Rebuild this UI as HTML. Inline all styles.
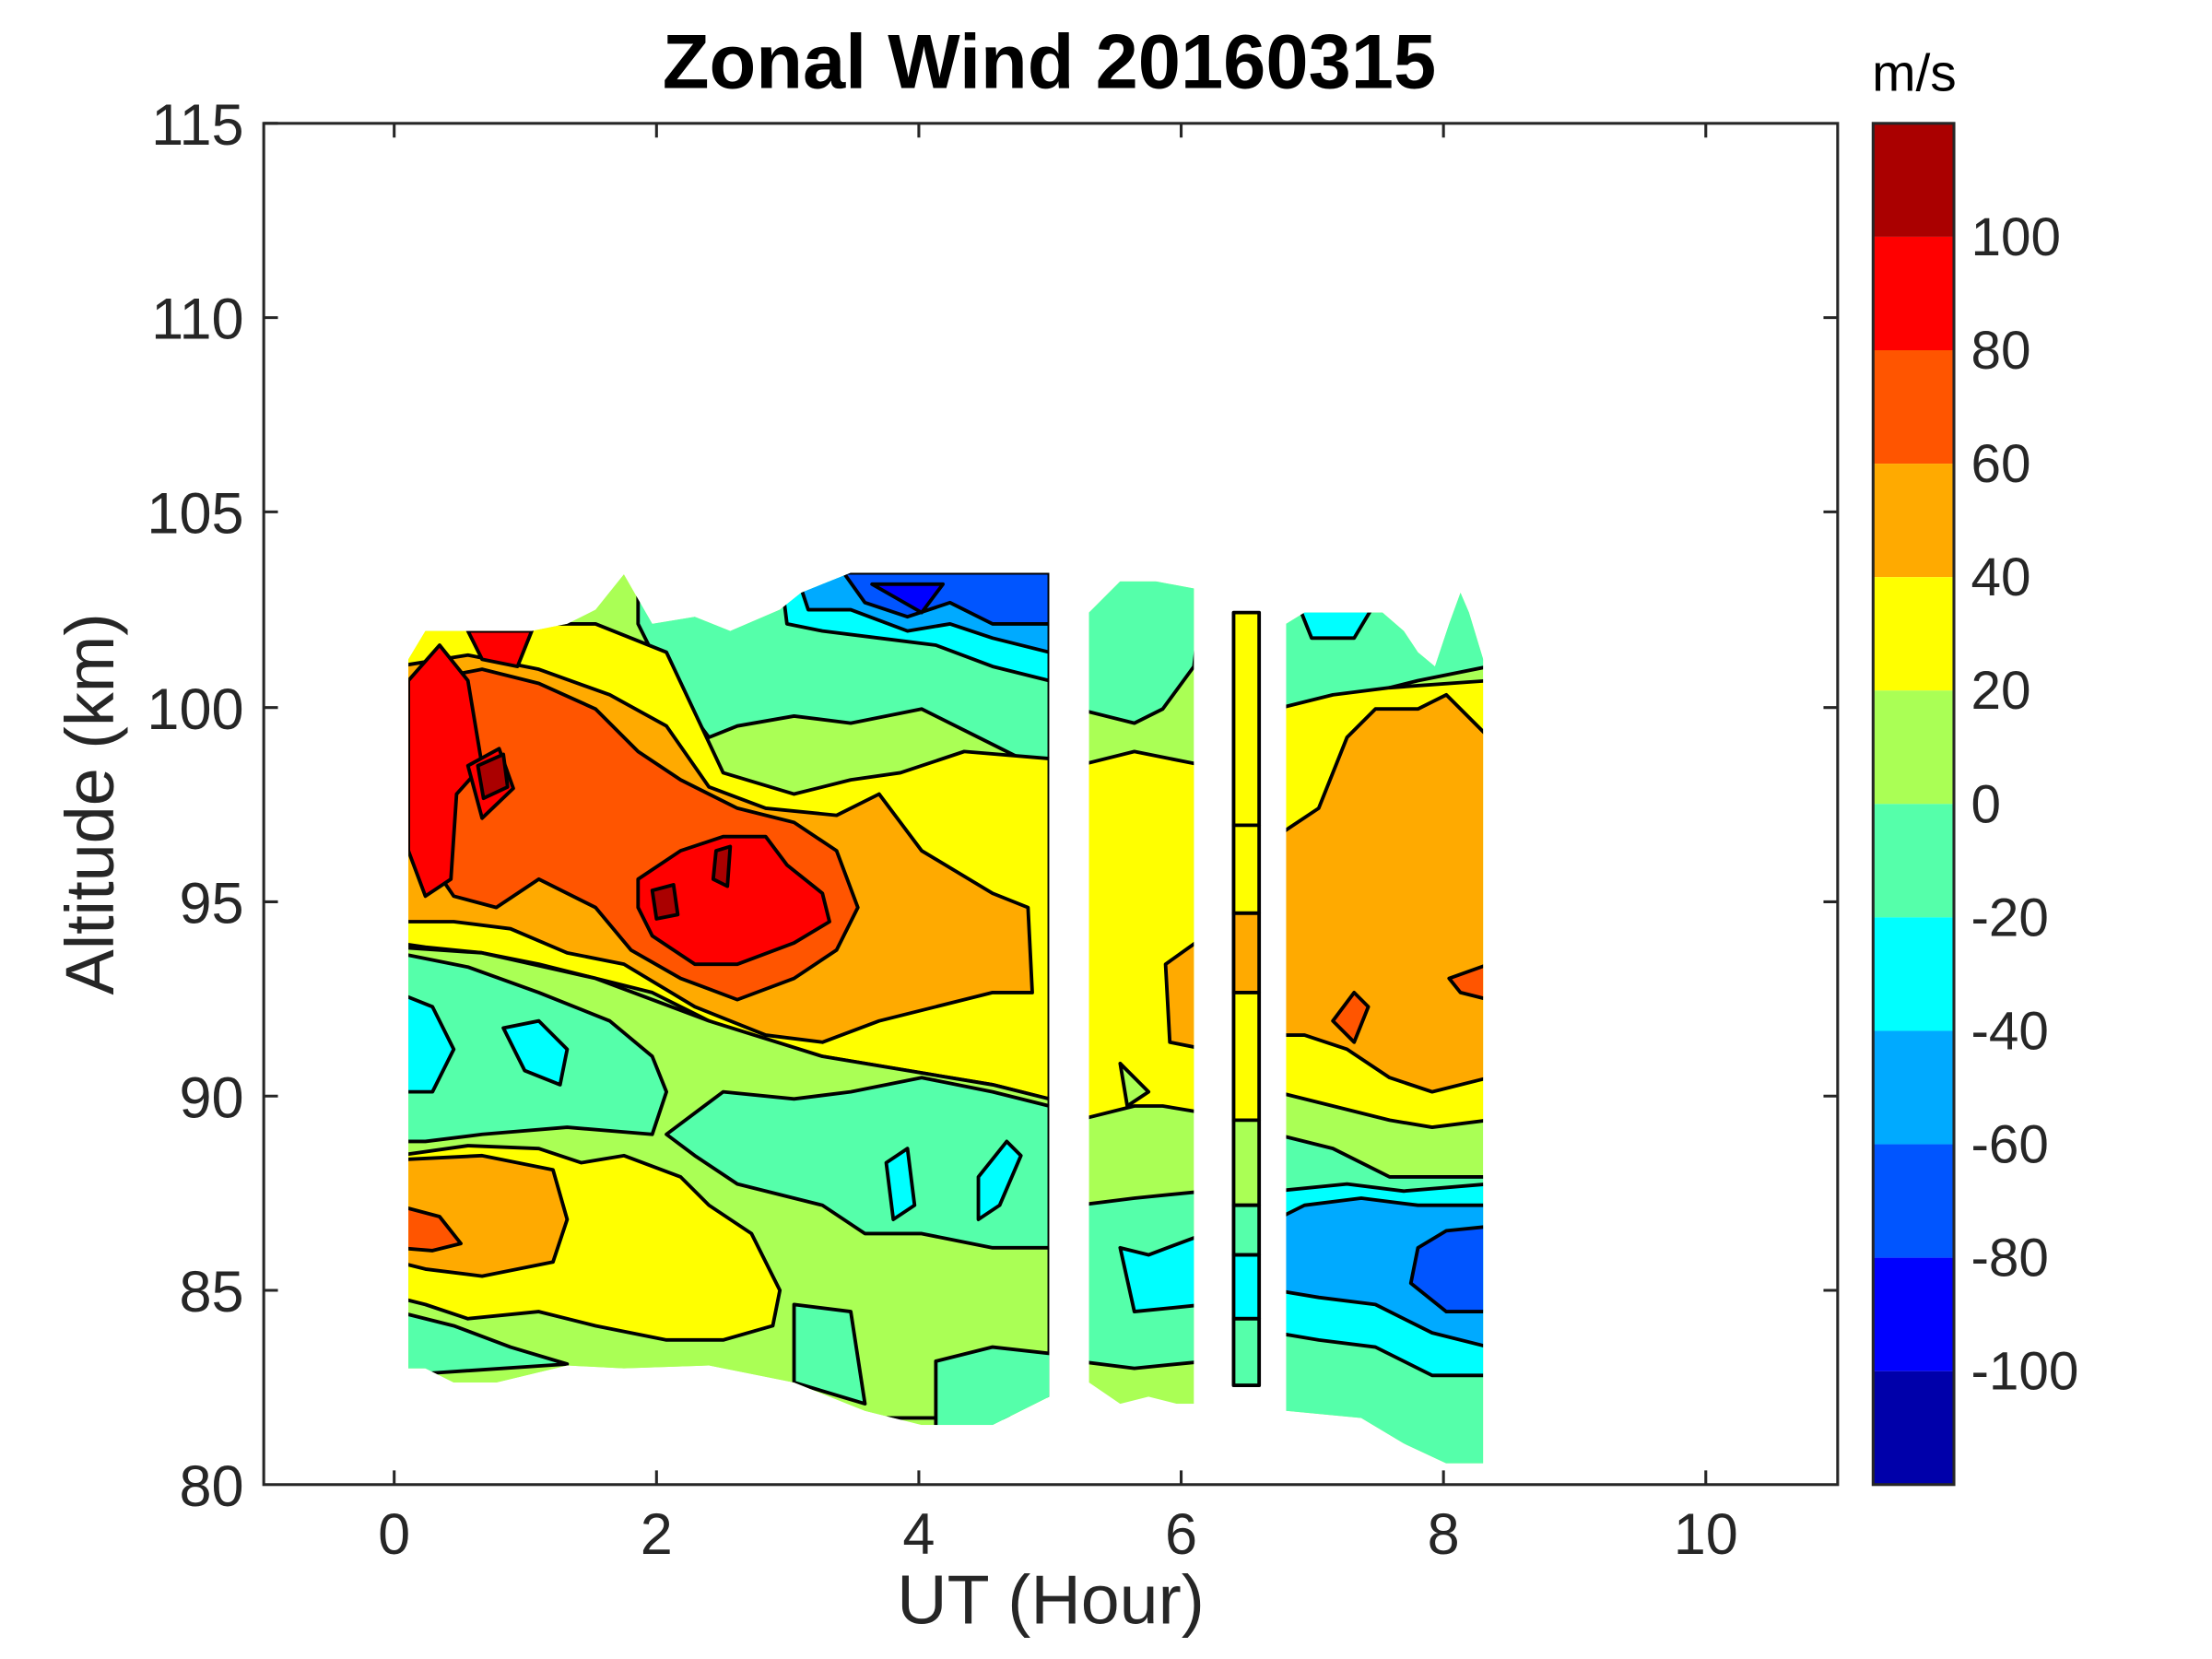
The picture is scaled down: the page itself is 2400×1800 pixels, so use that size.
<!DOCTYPE html>
<html><head><meta charset="utf-8"><style>html,body{margin:0;padding:0;background:#fff}svg{display:block}</style></head>
<body>
<svg width="2400" height="1800" viewBox="0 0 1560 1170" xmlns="http://www.w3.org/2000/svg" font-family="Liberation Sans, Arial, sans-serif">
<defs>
<clipPath id="b1"><polygon points="288,465 300,445 330,445 375,445 400,440 420,430 440,405 460,440 490,435 515,445 550,430 565,418 600,404 740,404 740,985 700,1005 650,1005 610,995 560,975 500,963 440,965 400,963 350,975 320,975 300,965 288,965"/></clipPath>
<clipPath id="b2"><polygon points="768,432 790,410 815,410 842,415 842,990 830,990 810,985 790,990 768,975"/></clipPath>
<clipPath id="b4"><polygon points="907,440 920,432 975,432 990,445 1000,460 1012,470 1022,440 1030,418 1036,432 1046,465 1046,1032 1020,1032 990,1018 960,1000 907,995"/></clipPath>
</defs>
<rect width="1560" height="1170" fill="#fff"/>
<g stroke="#000" stroke-width="2.5" stroke-linejoin="round">
<g clip-path="url(#b1)">
<rect x="280" y="400" width="470" height="620" fill="#AAFF55" stroke="none"/>
<polygon fill="#55FFAA" points="450,400 740,400 740,545 690,520 650,500 600,510 560,505 520,512 500,520 470,480 450,440"/>
<polygon fill="#00FFFF" points="550,400 740,400 740,480 700,470 660,455 620,450 580,445 555,440"/>
<polygon fill="#00AAFF" points="560,400 740,400 740,460 700,450 670,440 640,445 600,430 570,430"/>
<polygon fill="#0055FF" points="595,404 740,404 740,440 700,440 670,425 640,435 610,425"/>
<polygon fill="#0000FF" points="615,412 665,412 650,432"/>
<polygon fill="#FFFF00" points="280,440 420,440 470,460 510,545 560,560 600,550 635,545 680,530 740,535 740,775 700,765 640,755 580,745 540,735 500,720 460,700 420,690 380,680 340,672 300,668 280,665"/>
<polygon fill="#FFAA00" points="280,470 330,462 380,472 430,490 470,512 500,555 540,570 590,575 620,560 650,600 700,630 725,640 728,700 700,700 660,710 620,720 580,735 540,730 490,710 440,680 400,672 360,655 320,650 280,650"/>
<polygon fill="#FF5500" points="298,480 340,472 380,482 420,500 450,530 480,550 520,570 560,580 590,600 605,640 590,670 560,690 520,705 480,690 445,670 420,640 380,620 350,640 320,632 298,600"/>
<polygon fill="#FF0000" points="288,480 310,455 330,480 340,540 322,560 318,620 300,632 288,600"/>
<polygon fill="#FF0000" points="330,445 375,445 365,470 340,465"/>
<polygon fill="#FF0000" points="330,540 352,528 362,556 340,577"/>
<polygon fill="#FF0000" points="450,620 480,600 510,590 540,590 555,610 580,630 585,650 560,665 520,680 490,680 460,660 450,640"/>
<polygon fill="#AA0000" points="337,540 355,532 358,555 341,563"/>
<polygon fill="#AA0000" points="460,628 475,624 478,645 463,648"/>
<polygon fill="#AA0000" points="505,600 515,597 513,625 503,620"/>
<polygon fill="#AAFF55" points="280,668 340,672 420,690 500,720 580,745 700,765 740,775 740,1000 280,1000"/>
<polygon fill="#55FFAA" points="280,672 330,682 380,700 430,720 460,745 470,770 460,800 400,795 340,800 300,805 280,805"/>
<polygon fill="#00FFFF" points="280,700 305,710 320,740 305,770 280,770"/>
<polygon fill="#00FFFF" points="355,725 380,720 400,740 395,765 370,755"/>
<polygon fill="#FFFF00" points="280,815 330,808 380,810 410,820 440,815 480,830 500,850 530,870 550,910 545,935 510,945 470,945 420,935 380,925 330,930 300,920 280,915"/>
<polygon fill="#FFAA00" points="280,818 340,815 390,825 400,860 390,890 340,900 300,895 280,890"/>
<polygon fill="#FF5500" points="280,850 310,858 325,877 305,882 280,880"/>
<polygon fill="#55FFAA" points="470,800 510,770 560,775 600,770 650,760 700,770 740,780 740,880 700,880 650,870 610,870 580,850 520,835 490,815"/>
<polygon fill="#00FFFF" points="625,820 640,810 645,850 630,860"/>
<polygon fill="#00FFFF" points="690,830 710,805 720,815 705,850 690,860"/>
<polygon fill="#55FFAA" points="280,925 320,935 360,950 400,962 280,970"/>
<polygon fill="#55FFAA" points="560,920 600,925 610,990 560,975"/>
<polygon fill="#55FFAA" points="660,960 700,950 745,955 745,1010 660,1010"/>
</g>
<g clip-path="url(#b2)">
<rect x="760" y="400" width="90" height="600" fill="#AAFF55" stroke="none"/>
<polygon fill="#55FFAA" points="760,400 850,400 842,470 820,500 800,510 760,500"/>
<polygon fill="#FFFF00" points="760,540 800,530 850,540 850,785 820,780 800,780 760,790"/>
<polygon fill="#FFAA00" points="822,680 850,660 850,740 825,735"/>
<polygon fill="#AAFF55" points="790,750 810,770 795,780"/>
<polygon fill="#55FFAA" points="760,850 800,845 850,840 850,960 800,965 760,960"/>
<polygon fill="#00FFFF" points="790,880 810,885 850,870 850,920 800,925"/>
</g>
<g>
<rect x="870" y="432" width="18" height="150" fill="#FFFF00"/>
<rect x="870" y="582" width="18" height="62" fill="#FFFF00"/>
<rect x="870" y="644" width="18" height="56" fill="#FFAA00"/>
<rect x="870" y="700" width="18" height="90" fill="#FFFF00"/>
<rect x="870" y="790" width="18" height="60" fill="#AAFF55"/>
<rect x="870" y="850" width="18" height="35" fill="#55FFAA"/>
<rect x="870" y="885" width="18" height="45" fill="#00FFFF"/>
<rect x="870" y="930" width="18" height="47" fill="#55FFAA"/>
</g>
<g clip-path="url(#b4)">
<rect x="900" y="410" width="150" height="630" fill="#AAFF55" stroke="none"/>
<polygon fill="#55FFAA" points="900,410 1050,410 1050,470 1000,480 960,490 930,500 900,500"/>
<polygon fill="#00FFFF" points="915,425 970,425 955,450 925,450"/>
<polygon fill="#FFFF00" points="900,500 940,490 980,485 1050,480 1050,790 1010,795 980,790 940,780 900,770"/>
<polygon fill="#FFAA00" points="900,590 930,570 950,520 970,500 1000,500 1020,490 1050,520 1050,760 1010,770 980,760 950,740 920,730 900,730"/>
<polygon fill="#FF5500" points="940,720 955,700 965,710 955,735"/>
<polygon fill="#FF5500" points="1022,690 1050,680 1050,705 1030,700"/>
<polygon fill="#55FFAA" points="900,800 940,810 980,830 1050,830 1050,1040 900,1040"/>
<polygon fill="#00FFFF" points="900,840 950,835 990,840 1050,835 1050,970 1010,970 970,950 930,945 900,940"/>
<polygon fill="#00AAFF" points="920,850 960,845 1000,850 1050,850 1050,950 1010,940 970,920 930,915 900,910 900,860"/>
<polygon fill="#0055FF" points="1000,880 1020,868 1050,865 1050,925 1020,925 995,905"/>
</g>
</g>
<!-- axes -->
<g stroke="#262626" stroke-width="2" fill="none">
<rect x="186" y="87" width="1110" height="960"/>
<path d="M278,1047v-10M463,1047v-10M648,1047v-10M833,1047v-10M1018,1047v-10M1203,1047v-10M278,87v10M463,87v10M648,87v10M833,87v10M1018,87v10M1203,87v10"/>
<path d="M186,87h10M186,224h10M186,361h10M186,499h10M186,636h10M186,773h10M186,910h10M1296,224h-10M1296,361h-10M1296,499h-10M1296,636h-10M1296,773h-10M1296,910h-10"/>
</g>
<g font-size="41" fill="#262626">
<g text-anchor="end">
<text x="172" y="102">115</text><text x="172" y="239">110</text><text x="172" y="376">105</text><text x="172" y="514">100</text><text x="172" y="651">95</text><text x="172" y="788">90</text><text x="172" y="925">85</text><text x="172" y="1062">80</text>
</g>
<g text-anchor="middle">
<text x="278" y="1096">0</text><text x="463" y="1096">2</text><text x="648" y="1096">4</text><text x="833" y="1096">6</text><text x="1018" y="1096">8</text><text x="1203" y="1096">10</text>
</g>
<text x="741" y="1145" text-anchor="middle" font-size="49">UT (Hour)</text>
<text transform="translate(80,567) rotate(-90)" text-anchor="middle" font-size="48">Altitude (km)</text>
</g>
<text x="740" y="62" text-anchor="middle" font-size="54" font-weight="bold" fill="#000">Zonal Wind 20160315</text>
<text x="1350" y="64" text-anchor="middle" font-size="37" fill="#000">m/s</text>
<!-- colorbar -->
<g>
<rect x="1321" y="87" width="57" height="80" fill="#AA0000"/>
<rect x="1321" y="167" width="57" height="80" fill="#FF0000"/>
<rect x="1321" y="247" width="57" height="80" fill="#FF5500"/>
<rect x="1321" y="327" width="57" height="80" fill="#FFAA00"/>
<rect x="1321" y="407" width="57" height="80" fill="#FFFF00"/>
<rect x="1321" y="487" width="57" height="80" fill="#AAFF55"/>
<rect x="1321" y="567" width="57" height="80" fill="#55FFAA"/>
<rect x="1321" y="647" width="57" height="80" fill="#00FFFF"/>
<rect x="1321" y="727" width="57" height="80" fill="#00AAFF"/>
<rect x="1321" y="807" width="57" height="80" fill="#0055FF"/>
<rect x="1321" y="887" width="57" height="80" fill="#0000FF"/>
<rect x="1321" y="967" width="57" height="80" fill="#0000AA"/>
<rect x="1321" y="87" width="57" height="960" fill="none" stroke="#262626" stroke-width="2"/>
</g>
<g font-size="38" fill="#262626">
<text x="1390" y="180">100</text><text x="1390" y="260">80</text><text x="1390" y="340">60</text><text x="1390" y="420">40</text><text x="1390" y="500">20</text><text x="1390" y="580">0</text><text x="1390" y="660">-20</text><text x="1390" y="740">-40</text><text x="1390" y="820">-60</text><text x="1390" y="900">-80</text><text x="1390" y="980">-100</text>
</g>
</svg>
</body></html>
